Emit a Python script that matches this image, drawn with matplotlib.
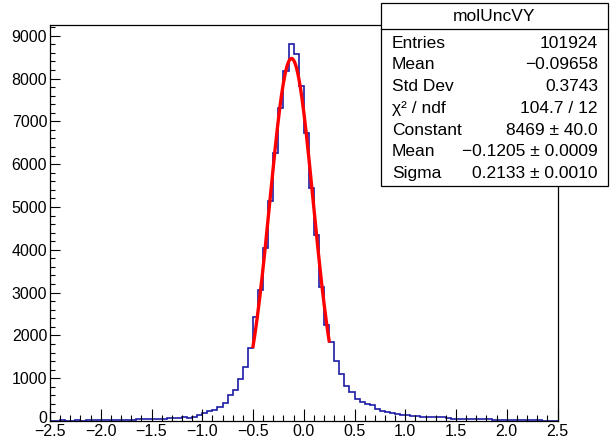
import numpy as np
import matplotlib.pyplot as plt
from matplotlib.patches import Rectangle
from matplotlib.lines import Line2D
from matplotlib.ticker import MultipleLocator
from matplotlib.transforms import ScaledTranslation

plt.rcParams['font.family'] = ['Liberation Sans', 'DejaVu Sans']

# BINNING
x_lo, x_hi, n_bins = -2.5, 2.5, 100

# bin contents (left to right)
counts = [
    10, 8, 12, 10, 0,
    12, 10, 14, 12, 15, 14, 16, 15, 18, 17, 20, 22,
    48, 52, 55, 50, 58, 55, 60, 62,
    78, 82, 80, 88,
    150, 180, 230, 265, 330, 410, 600, 720, 990, 1250, 1710,
    2420, 3060, 4050, 5150, 6260, 7310, 8170, 8810, 8580, 7815,
    6725, 5450, 4340, 3130, 2240,
    1835, 1395, 1090, 815, 670, 525, 455, 390, 380, 290,
    228, 200, 180, 165, 150, 130, 125, 110,
    92, 88, 86, 84, 82,
    60, 58, 56, 55, 57, 54, 52, 50, 48,
    25, 22, 20, 18, 20, 16, 15, 14, 12, 13, 10, 9, 8,
]

# gaus fit results (from the stats box)
fit_const = 8469
fit_mean = -0.1205
fit_sigma = 0.2133
fit_lo, fit_hi = -0.5, 0.25

stats_title = 'molUncVY'
stats_rows = [
    ('Entries', '101924'),
    ('Mean', '\u22120.09658'),
    ('Std Dev', '0.3743'),
    ('\u03c7\u00b2 / ndf', '104.7 / 12'),
    ('Constant', '8469 \u00b1 40.0'),
    ('Mean', '\u22120.1205 \u00b1 0.0009'),
    ('Sigma', '0.2133 \u00b1 0.0010'),
]

W, H = 610, 438
fig = plt.figure(figsize=(W / 100, H / 100), dpi=100)

# axes frame in pixels: left 50, right 557.5, top 25, bottom 421
ax = fig.add_axes([50 / W, (H - 421) / H, 507.5 / W, 396 / H])

edges = np.linspace(x_lo, x_hi, n_bins + 1)
ax.stairs(counts, edges, color='#1c1ca6', lw=1.2, baseline=None)

xs = np.linspace(fit_lo, fit_hi, 200)
ys = fit_const * np.exp(-0.5 * ((xs - fit_mean) / fit_sigma) ** 2)
ax.plot(xs, ys, color='#ff0000', lw=2.4, zorder=3)

ax.set_xlim(x_lo, x_hi)
ax.set_ylim(0, 1.05 * max(counts))

ax.xaxis.set_major_locator(MultipleLocator(0.5))
ax.xaxis.set_minor_locator(MultipleLocator(0.1))
ax.yaxis.set_major_locator(MultipleLocator(1000))
ax.yaxis.set_minor_locator(MultipleLocator(200))

ax.tick_params(axis='both', which='both', direction='in', width=0.8,
               top=False, right=False, labelsize=11.5, colors='black')
ax.tick_params(axis='x', which='major', length=9, pad=2.5)
ax.tick_params(axis='x', which='minor', length=4.5)
ax.tick_params(axis='y', which='major', length=7.2, pad=2)
ax.tick_params(axis='y', which='minor', length=3.6)

# the "0" of the y axis sits in the corner above "-2.5"; lift it a few pixels
fig.canvas.draw()
for tick in ax.yaxis.get_major_ticks():
    if tick.label1.get_text() == '0':
        tick.label1.set_transform(tick.label1.get_transform()
                                  + ScaledTranslation(0, 4 / 100, fig.dpi_scale_trans))

for sp in ax.spines.values():
    sp.set_linewidth(0.9)
    sp.set_zorder(4)


# stats box, drawn in figure pixels
def fx(px):
    return px / W


def fy(py):
    return (H - py) / H


bx0, bx1, by0, by1, sep = 381, 608, 3, 186, 29
fig.add_artist(Rectangle((fx(bx0), fy(by1)), fx(bx1) - fx(bx0), fy(by0) - fy(by1),
                         transform=fig.transFigure, facecolor='white',
                         edgecolor='black', lw=0.9, zorder=10))
fig.add_artist(Line2D([fx(bx0), fx(bx1)], [fy(sep), fy(sep)],
                      transform=fig.transFigure, color='black', lw=0.9, zorder=11))
fig.text(fx((bx0 + bx1) / 2), fy(16.5), stats_title, ha='center', va='center',
         fontsize=12.5, zorder=12)

row_y = 43
for name, val in stats_rows:
    fig.text(fx(392), fy(row_y), name, ha='left', va='center', fontsize=12.5, zorder=12)
    fig.text(fx(598), fy(row_y), val, ha='right', va='center', fontsize=12.5, zorder=12)
    row_y += 21.8

fig.savefig('out.png', dpi=100)
